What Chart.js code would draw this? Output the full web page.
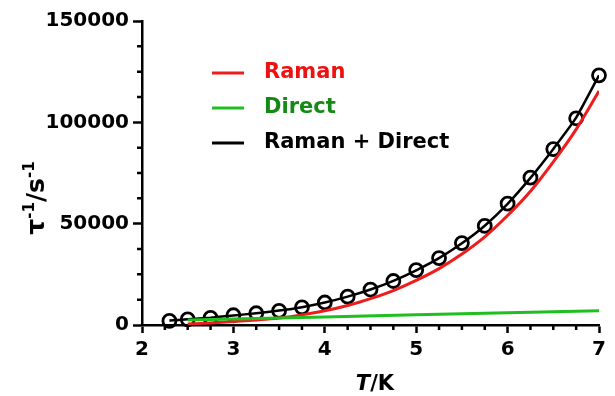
<!DOCTYPE html>
<html>
<head>
<meta charset="utf-8">
<title>Relaxation rate vs temperature</title>
<script src="https://cdn.jsdelivr.net/npm/chart.js@4.4.1/dist/chart.umd.min.js"></script>
<style>
  html, body { margin: 0; padding: 0; background: #fff; }
  #wrap { width: 615px; height: 396px; position: relative; }
</style>
</head>
<body>
<div id="wrap"><canvas id="rateChart"></canvas></div>
<script>
// measured relaxation rates
const tempK = [2.3, 2.5, 2.75, 3.0, 3.25, 3.5, 3.75, 4.0, 4.25, 4.5, 4.75, 5.0, 5.25, 5.5, 5.75, 6.0, 6.25, 6.5, 6.75, 7.0];
const rateObs = [2000, 2800, 3500, 4800, 5800, 7000, 8700, 11100, 14000, 17500, 21700, 27100, 33000, 40400, 48900, 59900, 72700, 86800, 102000, 123200];

// fitted curve, Raman + Direct
const fitTotal = [2200, 2800, 3600, 4700, 5800, 7100, 8800, 11100, 14000, 17500, 21800, 27000, 33000, 40300, 49000, 59800, 72600, 86900, 102300, 123200];

// Raman contribution
const ramanT = [2.5, 2.75, 3.0, 3.25, 3.5, 3.75, 4.0, 4.25, 4.5, 4.75, 5.0, 5.25, 5.5, 5.75, 6.0, 6.25, 6.5, 6.75, 7.0];
const ramanRate = [500, 1000, 1700, 2500, 3500, 5000, 7000, 9600, 13000, 17000, 22000, 27800, 35000, 43500, 54000, 66000, 80500, 96500, 115400];

// Direct contribution
const directT = [2.5, 3, 4, 5, 6, 7];
const directRate = [2500, 3000, 4000, 5000, 6000, 7000];

const xTicks = [2, 3, 4, 5, 6, 7];
const yTicks = [0, 50000, 100000, 150000];

const legendItems = [
  { label: "Raman", line: "#ee1c1c", text: "#ee1111" },
  { label: "Direct", line: "#1fbf1f", text: "#138a13" },
  { label: "Raman + Direct", line: "#000000", text: "#000000" },
];

const pts = (xs, ys) => xs.map((x, i) => ({ x: x, y: ys[i] }));
const FONT = "'DejaVu Sans', Verdana, sans-serif";

// minor ticks, legend block and axis titles
const decorations = {
  id: "decorations",
  afterDraw(chart) {
    const ctx = chart.ctx;
    const xs = chart.scales.x;
    const ys = chart.scales.y;
    const area = chart.chartArea;
    ctx.save();
    ctx.strokeStyle = "#000";
    ctx.lineWidth = 2.5;
    ctx.beginPath();
    for (let v = 2; v <= 7.001; v += 0.25) {
      if (Math.abs(v - Math.round(v)) < 0.01) continue;
      const px = xs.getPixelForValue(v);
      ctx.moveTo(px, area.bottom);
      ctx.lineTo(px, area.bottom + 5);
    }
    for (let v = 0; v <= 150000; v += 12500) {
      if (v % 50000 === 0) continue;
      const py = ys.getPixelForValue(v);
      ctx.moveTo(area.left, py);
      ctx.lineTo(area.left - 5, py);
    }
    ctx.stroke();

    // legend
    ctx.font = "bold 21px " + FONT;
    ctx.textBaseline = "middle";
    ctx.textAlign = "left";
    legendItems.forEach((item, i) => {
      const y = 73 + i * 35;
      ctx.strokeStyle = item.line;
      ctx.lineWidth = 3;
      ctx.beginPath();
      ctx.moveTo(212, y);
      ctx.lineTo(244, y);
      ctx.stroke();
      ctx.fillStyle = item.text;
      ctx.fillText(item.label, 264, y);
    });

    // x title: T/K
    ctx.fillStyle = "#000";
    ctx.textBaseline = "alphabetic";
    const fT = "italic bold 21px " + FONT;
    const fK = "bold 21px " + FONT;
    ctx.font = fT;
    const wT = ctx.measureText("T").width;
    ctx.font = fK;
    const wK = ctx.measureText("/K").width;
    let x0 = 375 - (wT + wK) / 2;
    ctx.font = fT;
    ctx.fillText("T", x0, 390);
    ctx.font = fK;
    ctx.fillText("/K", x0 + wT, 390);

    // y title: tau^-1 / s^-1
    const parts = [
      { t: "τ", f: "bold 25px " + FONT, dy: 0 },
      { t: "-1", f: "bold 15px " + FONT, dy: -10 },
      { t: "/s", f: "bold 25px " + FONT, dy: 0 },
      { t: "-1", f: "bold 15px " + FONT, dy: -10 },
    ];
    let total = 0;
    parts.forEach((p) => { ctx.font = p.f; p.w = ctx.measureText(p.t).width; total += p.w; });
    ctx.translate(44, 198);
    ctx.rotate(-Math.PI / 2);
    let cx = -total / 2;
    parts.forEach((p) => {
      ctx.font = p.f;
      ctx.fillText(p.t, cx, p.dy);
      cx += p.w;
    });
    ctx.restore();
  },
};

const ctx = document.getElementById("rateChart").getContext("2d");
new Chart(ctx, {
  type: "scatter",
  data: {
    datasets: [
      {
        label: "Direct",
        data: pts(directT, directRate),
        showLine: true,
        borderColor: "#1fbf1f",
        borderWidth: 3,
        pointRadius: 0,
      },
      {
        label: "Raman",
        data: pts(ramanT, ramanRate),
        showLine: true,
        borderColor: "#ee1c1c",
        borderWidth: 3,
        pointRadius: 0,
        cubicInterpolationMode: "monotone",
      },
      {
        label: "Raman + Direct",
        data: pts(tempK, fitTotal),
        showLine: true,
        borderColor: "#000",
        borderWidth: 2.5,
        pointRadius: 0,
        tension: 0.15,
      },
      {
        label: "data",
        data: pts(tempK, rateObs),
        showLine: false,
        pointRadius: 6.5,
        pointBorderWidth: 2.8,
        pointBorderColor: "#000",
        pointBackgroundColor: "rgba(0,0,0,0)",
        clip: false,
      },
    ],
  },
  options: {
    responsive: true,
    maintainAspectRatio: false,
    animation: false,
    layout: { padding: { top: 21, right: 16, left: 0, bottom: 0 } },
    plugins: {
      legend: { display: false },
      tooltip: { enabled: false },
    },
    scales: {
      x: {
        type: "linear",
        min: 2,
        max: 7,
        afterBuildTicks: (s) => { s.ticks = xTicks.map((v) => ({ value: v })); },
        afterFit: (s) => { s.height = 71; },
        border: { display: true, color: "#000", width: 2.5 },
        grid: { drawOnChartArea: false, drawTicks: true, tickLength: 8, tickWidth: 2.5, tickColor: "#000" },
        ticks: { color: "#000", font: { family: FONT, size: 20, weight: "bold" }, padding: 5, maxRotation: 0 },
      },
      y: {
        type: "linear",
        min: 0,
        max: 150000,
        afterBuildTicks: (s) => { s.ticks = yTicks.map((v) => ({ value: v })); },
        afterFit: (s) => { s.width = 142; },
        border: { display: true, color: "#000", width: 2.5 },
        grid: { drawOnChartArea: false, drawTicks: true, tickLength: 9, tickWidth: 2.5, tickColor: "#000" },
        ticks: { color: "#000", font: { family: FONT, size: 20, weight: "bold" }, padding: 4, callback: (v) => String(v) },
      },
    },
  },
  plugins: [decorations],
});
</script>
</body>
</html>
